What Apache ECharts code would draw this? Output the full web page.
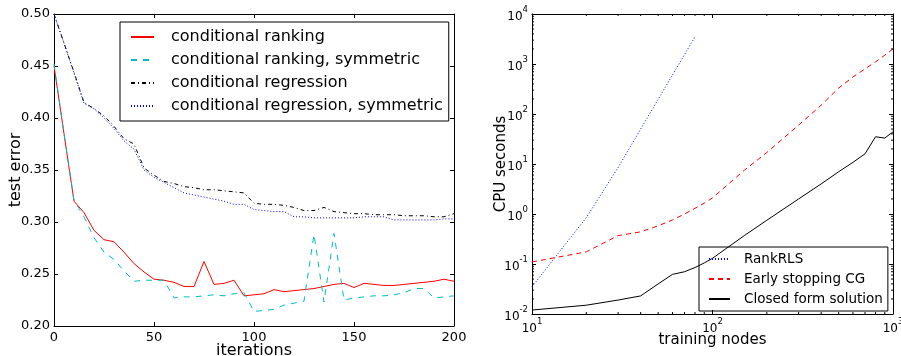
<!DOCTYPE html>
<html>
<head>
<meta charset="utf-8">
<script src="https://cdn.jsdelivr.net/npm/echarts@6/dist/echarts.min.js"></script>
<style>
  html, body { margin: 0; padding: 0; background: #fff; }
  #chart { width: 901px; height: 356px; }
</style>
</head>
<body>
<div id="chart"></div>
<script>
// left panel: test error vs iterations
const iters = [0, 5, 10, 15, 20, 25, 30, 35, 40, 45, 50, 55, 60, 65, 70, 75, 80, 85, 90, 95,
  100, 105, 110, 115, 120, 125, 130, 135, 140, 145, 150, 155, 160, 165, 170, 175, 180, 185, 190, 195, 200];
const rankErr = [0.450, 0.385, 0.320, 0.309, 0.292, 0.283, 0.281, 0.271, 0.260, 0.252,
  0.245, 0.244, 0.242, 0.238, 0.238, 0.262, 0.240, 0.241, 0.244, 0.229,
  0.230, 0.231, 0.235, 0.233, 0.234, 0.235, 0.236, 0.238, 0.240, 0.241,
  0.237, 0.241, 0.240, 0.239, 0.239, 0.240, 0.241, 0.242, 0.243, 0.245, 0.243];
const rankSymErr = [0.452, 0.385, 0.321, 0.305, 0.285, 0.271, 0.264, 0.253, 0.243, 0.244,
  0.244, 0.244, 0.227, 0.228, 0.228, 0.229, 0.230, 0.229, 0.231, 0.232,
  0.214, 0.215, 0.216, 0.220, 0.222, 0.224, 0.288, 0.223, 0.289, 0.225,
  0.227, 0.228, 0.229, 0.229, 0.230, 0.232, 0.236, 0.236, 0.227, 0.228, 0.229];
const regErr = [0.500, 0.472, 0.444, 0.415, 0.409, 0.402, 0.392, 0.380, 0.375, 0.352,
  0.345, 0.339, 0.337, 0.334, 0.333, 0.331, 0.331, 0.330, 0.329, 0.328,
  0.318, 0.317, 0.317, 0.316, 0.314, 0.311, 0.311, 0.314, 0.310, 0.309,
  0.308, 0.308, 0.307, 0.307, 0.307, 0.306, 0.306, 0.306, 0.305, 0.305, 0.308];
const regSymErr = [0.500, 0.472, 0.443, 0.414, 0.409, 0.400, 0.390, 0.378, 0.370, 0.350,
  0.343, 0.338, 0.333, 0.328, 0.326, 0.324, 0.322, 0.320, 0.317, 0.317,
  0.312, 0.311, 0.310, 0.310, 0.305, 0.305, 0.304, 0.304, 0.304, 0.304,
  0.304, 0.305, 0.305, 0.305, 0.302, 0.302, 0.302, 0.302, 0.302, 0.303, 0.303];
const leftNames = ['conditional ranking', 'conditional ranking, symmetric',
  'conditional regression', 'conditional regression, symmetric'];

// right panel: CPU seconds vs training nodes (log-log)
const rlsNodes = [10, 20, 30, 40, 50, 60, 70, 80];
const rlsTime = [0.035, 0.85, 8.5, 50, 197, 600, 1550, 3500];
const nodes = [10, 20, 30, 40, 50, 60, 70, 80, 90, 100, 150, 200, 300, 400, 500, 600, 700, 800, 900, 1000];
const cgTime = [0.11, 0.175, 0.37, 0.44, 0.58, 0.76, 1.0, 1.3, 1.65, 2.1,
  7.5, 17, 60, 150, 330, 550, 800, 1100, 1500, 2000];
const closedTime = [0.012, 0.015, 0.019, 0.023, 0.04, 0.062, 0.07, 0.085, 0.105, 0.13,
  0.37, 0.75, 2.0, 4.0, 7.0, 10.8, 16, 35, 33, 44];
const rightNames = ['RankRLS', 'Early stopping CG', 'Closed form solution'];

// minor ticks of the log axes
const minorX = [20, 30, 40, 50, 60, 70, 80, 90, 200, 300, 400, 500, 600, 700, 800, 900];
const minorY = [0.02, 0.03, 0.04, 0.05, 0.06, 0.07, 0.08, 0.09,
  0.2, 0.3, 0.4, 0.5, 0.6, 0.7, 0.8, 0.9,
  2, 3, 4, 5, 6, 7, 8, 9,
  20, 30, 40, 50, 60, 70, 80, 90,
  200, 300, 400, 500, 600, 700, 800, 900,
  2000, 3000, 4000, 5000, 6000, 7000, 8000, 9000];

const FONT = 'DejaVu Sans';
const zip = (xs, ys) => xs.map((x, i) => [x, ys[i]]);

const chart = echarts.init(document.getElementById('chart'));

const frameAxis = (extra) => Object.assign({
  axisLine: { show: true, onZero: false, lineStyle: { color: '#000', width: 1 } },
  axisTick: { show: true, inside: true, length: 4, lineStyle: { color: '#000' } },
  splitLine: { show: false },
  axisLabel: { show: false },
  nameMoveOverlap: false
}, extra);

const powLabel = {
  show: true,
  fontFamily: FONT,
  color: '#000',
  formatter: (v) => '{b|10}{s|' + Math.round(Math.log10(v)) + '}',
  rich: {
    b: { fontSize: 12, lineHeight: 18, fontFamily: FONT, color: '#000', verticalAlign: 'bottom' },
    s: { fontSize: 8.5, lineHeight: 9, fontFamily: FONT, color: '#000', verticalAlign: 'top' }
  }
};

const minorTicks = (isX) => ({
  type: 'custom',
  xAxisIndex: 2,
  yAxisIndex: 2,
  silent: true,
  z: 5,
  data: isX ? minorX.map((v) => [v, 1]) : minorY.map((v) => [100, v]),
  renderItem: (params, api) => {
    const style = { stroke: '#000', lineWidth: 1 };
    if (isX) {
      const v = api.value(0);
      const b = api.coord([v, 0.01]);
      const t = api.coord([v, 10000]);
      return { type: 'group', children: [
        { type: 'line', shape: { x1: b[0], y1: b[1], x2: b[0], y2: b[1] - 2 }, style },
        { type: 'line', shape: { x1: t[0], y1: t[1], x2: t[0], y2: t[1] + 2 }, style }
      ] };
    }
    const v = api.value(1);
    const l = api.coord([10, v]);
    const r = api.coord([1000, v]);
    return { type: 'group', children: [
      { type: 'line', shape: { x1: l[0], y1: l[1], x2: l[0] + 2, y2: l[1] }, style },
      { type: 'line', shape: { x1: r[0], y1: r[1], x2: r[0] - 2, y2: r[1] }, style }
    ] };
  }
});

const option = {
  animation: false,
  backgroundColor: '#fff',
  textStyle: { fontFamily: FONT },
  grid: [
    { left: 54, top: 14, width: 400, height: 312, outerBoundsMode: 'none', containLabel: false },
    { left: 532, top: 14, width: 361, height: 300, outerBoundsMode: 'none', containLabel: false }
  ],
  legend: [
    {
      data: leftNames,
      orient: 'vertical',
      left: 120, top: 22,
      itemWidth: 23, itemHeight: 14, itemGap: 7,
      padding: [7, 6, 7, 10],
      borderColor: '#000', borderWidth: 1,
      itemStyle: { opacity: 0 },
      textStyle: { fontSize: 16, fontFamily: FONT, color: '#000', padding: [0, 0, 0, 12] }
    },
    {
      data: rightNames,
      orient: 'vertical',
      left: 699, top: 247,
      itemWidth: 21, itemHeight: 12, itemGap: 6,
      padding: [5, 5, 5, 9],
      borderColor: '#000', borderWidth: 1,
      itemStyle: { opacity: 0 },
      textStyle: { fontSize: 13.5, fontFamily: FONT, color: '#000', padding: [0, 0, 0, 9] }
    }
  ],
  xAxis: [
    frameAxis({
      gridIndex: 0, type: 'value', min: 0, max: 200, interval: 50, position: 'bottom',
      name: 'iterations', nameLocation: 'middle', nameGap: 17,
      nameTextStyle: { fontSize: 16, fontFamily: FONT, color: '#000' },
      axisLabel: { show: true, fontSize: 13, fontFamily: FONT, color: '#000', margin: 5 }
    }),
    frameAxis({ gridIndex: 0, type: 'value', min: 0, max: 200, interval: 50, position: 'top' }),
    frameAxis({
      gridIndex: 1, type: 'log', logBase: 10, min: 10, max: 1000, position: 'bottom',
      name: 'training nodes', nameLocation: 'middle', nameGap: 19,
      nameTextStyle: { fontSize: 15, fontFamily: FONT, color: '#000' },
      axisLabel: Object.assign({ margin: 3 }, powLabel)
    }),
    frameAxis({ gridIndex: 1, type: 'log', logBase: 10, min: 10, max: 1000, position: 'top' })
  ],
  yAxis: [
    frameAxis({
      gridIndex: 0, type: 'value', min: 0.2, max: 0.5, interval: 0.05, position: 'left',
      name: 'test error', nameLocation: 'middle', nameGap: 30,
      nameTextStyle: { fontSize: 16, fontFamily: FONT, color: '#000' },
      axisLabel: { show: true, fontSize: 13, fontFamily: FONT, color: '#000', margin: 4,
        formatter: (v) => v.toFixed(2) }
    }),
    frameAxis({ gridIndex: 0, type: 'value', min: 0.2, max: 0.5, interval: 0.05, position: 'right' }),
    frameAxis({
      gridIndex: 1, type: 'log', logBase: 10, min: 0.01, max: 10000, position: 'left',
      name: 'CPU seconds', nameLocation: 'middle', nameGap: 23,
      nameTextStyle: { fontSize: 15, fontFamily: FONT, color: '#000' },
      axisLabel: Object.assign({ margin: 4 }, powLabel)
    }),
    frameAxis({ gridIndex: 1, type: 'log', logBase: 10, min: 0.01, max: 10000, position: 'right' })
  ],
  series: [
    { name: leftNames[0], type: 'line', xAxisIndex: 0, yAxisIndex: 0, symbol: 'none',
      data: zip(iters, rankErr), lineStyle: { color: '#ff0000', width: 1 }, itemStyle: { color: '#ff0000' } },
    { name: leftNames[1], type: 'line', xAxisIndex: 0, yAxisIndex: 0, symbol: 'none',
      data: zip(iters, rankSymErr), lineStyle: { color: '#00bfbf', width: 1, type: [6, 6] }, itemStyle: { color: '#00bfbf' } },
    { name: leftNames[2], type: 'line', xAxisIndex: 0, yAxisIndex: 0, symbol: 'none',
      data: zip(iters, regErr), lineStyle: { color: '#000', width: 1, type: [4, 3, 1, 3] }, itemStyle: { color: '#000' } },
    { name: leftNames[3], type: 'line', xAxisIndex: 0, yAxisIndex: 0, symbol: 'none',
      data: zip(iters, regSymErr), lineStyle: { color: '#0000ff', width: 1, type: [1, 2] }, itemStyle: { color: '#0000ff' } },
    { name: rightNames[0], type: 'line', xAxisIndex: 2, yAxisIndex: 2, symbol: 'none',
      data: zip(rlsNodes, rlsTime), lineStyle: { color: '#0000ff', width: 1, type: [1, 2] }, itemStyle: { color: '#0000ff' } },
    { name: rightNames[1], type: 'line', xAxisIndex: 2, yAxisIndex: 2, symbol: 'none',
      data: zip(nodes, cgTime), lineStyle: { color: '#ff0000', width: 1, type: [5, 4] }, itemStyle: { color: '#ff0000' } },
    { name: rightNames[2], type: 'line', xAxisIndex: 2, yAxisIndex: 2, symbol: 'none',
      data: zip(nodes, closedTime), lineStyle: { color: '#000', width: 1 }, itemStyle: { color: '#000' } },
    minorTicks(true),
    minorTicks(false)
  ]
};

chart.setOption(option);
</script>
</body>
</html>
